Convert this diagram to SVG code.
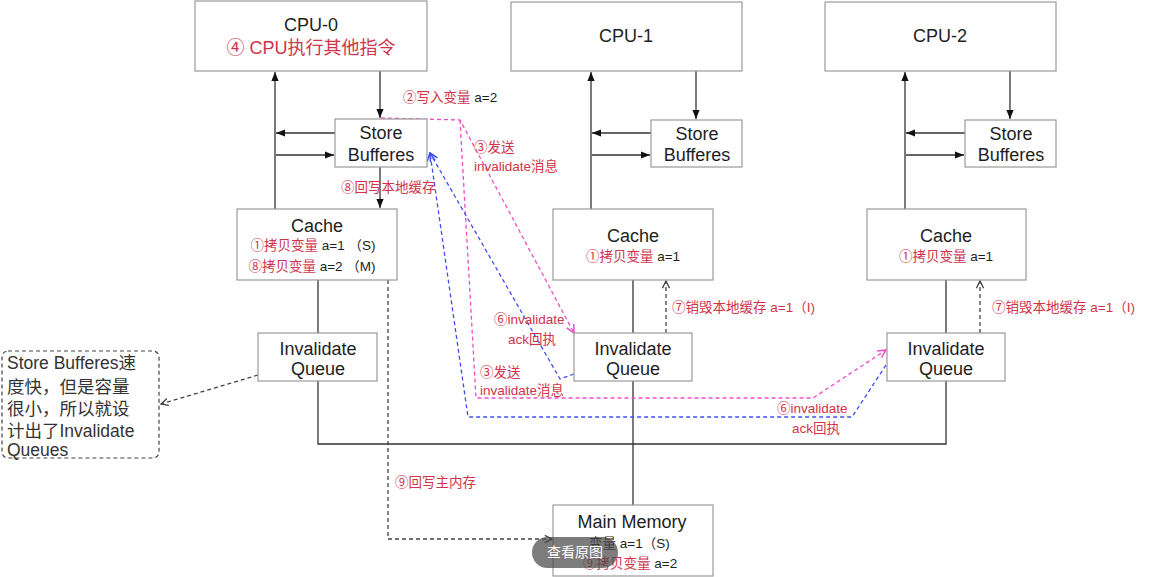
<svg xmlns="http://www.w3.org/2000/svg" width="1149" height="577" viewBox="0 0 1149 577">
<style>
.box{fill:#fff;stroke:#9a9a9a;stroke-width:1.2}
.note{fill:#fff;stroke:#444;stroke-width:1.2;stroke-dasharray:4 3}
.t{font-family:"Liberation Sans","Noto Sans CJK SC",sans-serif;fill:#1e1e1e}
.ti{font-size:18px;text-anchor:middle}
.s{font-size:13.5px}
.m{text-anchor:middle}
.r{fill:#d0334a}
.ln{stroke:#333;stroke-width:1.3;fill:none}
.ar{marker-end:url(#ah)}
.gd{stroke:#444;stroke-width:1.3;stroke-dasharray:4 3;fill:none;marker-end:url(#ag)}
.pk{stroke:#f04ec6;stroke-width:1.3;stroke-dasharray:4 3;fill:none}
.bl{stroke:#4050ee;stroke-width:1.3;stroke-dasharray:4 3;fill:none}
</style>
<defs>
<marker id="ah" viewBox="0 0 10 10" refX="10" refY="5" markerWidth="9" markerHeight="9" markerUnits="userSpaceOnUse" orient="auto"><path d="M0,1 L10,5 L0,9 z" fill="#111"/></marker>
<marker id="ag" viewBox="0 0 10 10" refX="9" refY="5" markerWidth="9" markerHeight="9" markerUnits="userSpaceOnUse" orient="auto"><path d="M1,1 L9,5 L1,9" fill="none" stroke="#444" stroke-width="1.5"/></marker>
<marker id="ap" viewBox="0 0 10 10" refX="9" refY="5" markerWidth="10" markerHeight="10" markerUnits="userSpaceOnUse" orient="auto"><path d="M1,1 L9,5 L1,9" fill="none" stroke="#f04ec6" stroke-width="1.5"/></marker>
<marker id="ab" viewBox="0 0 10 10" refX="9" refY="5" markerWidth="10" markerHeight="10" markerUnits="userSpaceOnUse" orient="auto"><path d="M1,1 L9,5 L1,9" fill="none" stroke="#4050ee" stroke-width="1.5"/></marker>
</defs>
<rect width="1149" height="577" fill="#fff"/>

<g id="connectors">
<line class="ln ar" x1="380" y1="71" x2="380" y2="118"/>
<line class="ln ar" x1="275" y1="209" x2="275" y2="72"/>
<line class="ln ar" x1="335" y1="133" x2="276" y2="133"/>
<line class="ln ar" x1="276" y1="155" x2="334" y2="155"/>
<line class="ln ar" x1="380" y1="167" x2="380" y2="208"/>
<line class="ln" x1="318" y1="280" x2="318" y2="333"/>
<path class="ln" d="M318,381 V444 H946 V381"/>

<line class="ln ar" x1="696" y1="71" x2="696" y2="119"/>
<line class="ln ar" x1="591" y1="209" x2="591" y2="72"/>
<line class="ln ar" x1="651" y1="133" x2="592" y2="133"/>
<line class="ln ar" x1="592" y1="155" x2="650" y2="155"/>
<line class="ln" x1="633" y1="280" x2="633" y2="333"/>
<line class="ln" x1="633" y1="381" x2="633" y2="505"/>

<line class="ln ar" x1="1010" y1="71" x2="1010" y2="119"/>
<line class="ln ar" x1="905" y1="209" x2="905" y2="72"/>
<line class="ln ar" x1="965" y1="133" x2="906" y2="133"/>
<line class="ln ar" x1="906" y1="155" x2="964" y2="155"/>
<line class="ln" x1="946" y1="280" x2="946" y2="333"/>

<path class="gd" d="M666,333 V281"/>
<path class="gd" d="M980,333 V281"/>
<path class="gd" d="M388,280 V539 H552"/>
<path class="gd" d="M258,375 L161,404"/>

<path class="pk" d="M381,118 L460,120 L574,333" marker-end="url(#ap)"/>
<path class="pk" d="M460,120 L476,398 L813,398 L886,350" marker-end="url(#ap)"/>
<path class="bl" d="M574,374 L560,379 L430,153" marker-end="url(#ab)"/>
<path class="bl" d="M886,365 L852,417 L468,417 L430,153" marker-end="url(#ab)"/>
</g>

<g id="cpu0"><rect class="box" x="195" y="1" width="232" height="70"/>
<text class="t ti" x="311" y="31">CPU-0</text>
<text class="t ti r" x="311" y="54">④ CPU执行其他指令</text></g>
<g id="cpu1"><rect class="box" x="511" y="2" width="231" height="69"/><text class="t ti" x="626" y="42">CPU-1</text></g>
<g id="cpu2"><rect class="box" x="825" y="2" width="231" height="69"/><text class="t ti" x="940" y="42">CPU-2</text></g>

<g id="sb0"><rect class="box" x="335" y="119" width="92" height="48"/><text class="t ti" x="381" y="139">Store</text><text class="t ti" x="381" y="161">Bufferes</text></g>
<g id="sb1"><rect class="box" x="651" y="120" width="91" height="47"/><text class="t ti" x="697" y="140">Store</text><text class="t ti" x="697" y="161">Bufferes</text></g>
<g id="sb2"><rect class="box" x="965" y="120" width="91" height="47"/><text class="t ti" x="1011" y="140">Store</text><text class="t ti" x="1011" y="161">Bufferes</text></g>

<g id="cache0"><rect class="box" x="237" y="209" width="160" height="71"/>
<text class="t ti" x="317" y="232">Cache</text>
<text class="t s m" x="313" y="250"><tspan class="r">①拷贝变量</tspan> a=1 （S)</text>
<text class="t s m" x="312" y="271"><tspan class="r">⑧拷贝变量</tspan> a=2 （M)</text></g>
<g id="cache1"><rect class="box" x="553" y="209" width="160" height="71"/>
<text class="t ti" x="633" y="242">Cache</text>
<text class="t s m" x="633" y="261"><tspan class="r">①拷贝变量</tspan> a=1</text></g>
<g id="cache2"><rect class="box" x="867" y="209" width="159" height="71"/>
<text class="t ti" x="946" y="242">Cache</text>
<text class="t s m" x="946" y="261"><tspan class="r">①拷贝变量</tspan> a=1</text></g>

<g id="iq0"><rect class="box" x="258" y="333" width="119" height="48"/><text class="t ti" x="318" y="355">Invalidate</text><text class="t ti" x="318" y="375">Queue</text></g>
<g id="iq1"><rect class="box" x="574" y="333" width="118" height="48"/><text class="t ti" x="633" y="355">Invalidate</text><text class="t ti" x="633" y="375">Queue</text></g>
<g id="iq2"><rect class="box" x="887" y="333" width="118" height="48"/><text class="t ti" x="946" y="355">Invalidate</text><text class="t ti" x="946" y="375">Queue</text></g>

<g id="mainmem"><rect class="box" x="553" y="505" width="160" height="71"/>
<text class="t ti" x="632" y="528">Main Memory</text>
<text class="t s" x="589" y="548">变量 a=1（S)</text>
<text class="t s" x="583" y="568"><tspan class="r">⑨拷贝变量</tspan> a=2</text></g>

<g id="note"><rect class="note" x="2" y="351" width="157" height="107" rx="6"/>
<g class="t" style="font-size:17.5px;fill:#333">
<text x="7" y="369">Store Bufferes速</text>
<text x="7" y="393">度快，但是容量</text>
<text x="7" y="415">很小，所以就设</text>
<text x="7" y="437">计出了Invalidate</text>
<text x="7" y="456">Queues</text></g></g>

<g id="labels" class="t s">
<text x="403" y="102"><tspan class="r">②写入变量</tspan> a=2</text>
<text class="r" x="474" y="152">③发送</text>
<text class="r" x="474" y="171">invalidate消息</text>
<text class="r" x="341" y="192">⑧回写本地缓存</text>
<text class="r" x="494" y="324">⑥invalidate</text>
<text class="r" x="508" y="344">ack回执</text>
<text class="r" x="480" y="377">③发送</text>
<text class="r" x="480" y="395">invalidate消息</text>
<text class="r" x="777" y="413">⑥invalidate</text>
<text class="r" x="792" y="433">ack回执</text>
<text class="r" x="672" y="312">⑦销毁本地缓存 a=1（I)</text>
<text class="r" x="992" y="312">⑦销毁本地缓存 a=1（I)</text>
<text class="r" x="395" y="487">⑨回写主内存</text>
</g>

<g id="viewbtn"><rect x="532" y="537" width="86" height="31" rx="15.5" fill="#4a4a4a" opacity="0.72"/>
<text class="t m" x="575" y="557" style="font-size:14px;fill:#fff">查看原图</text></g>
</svg>
